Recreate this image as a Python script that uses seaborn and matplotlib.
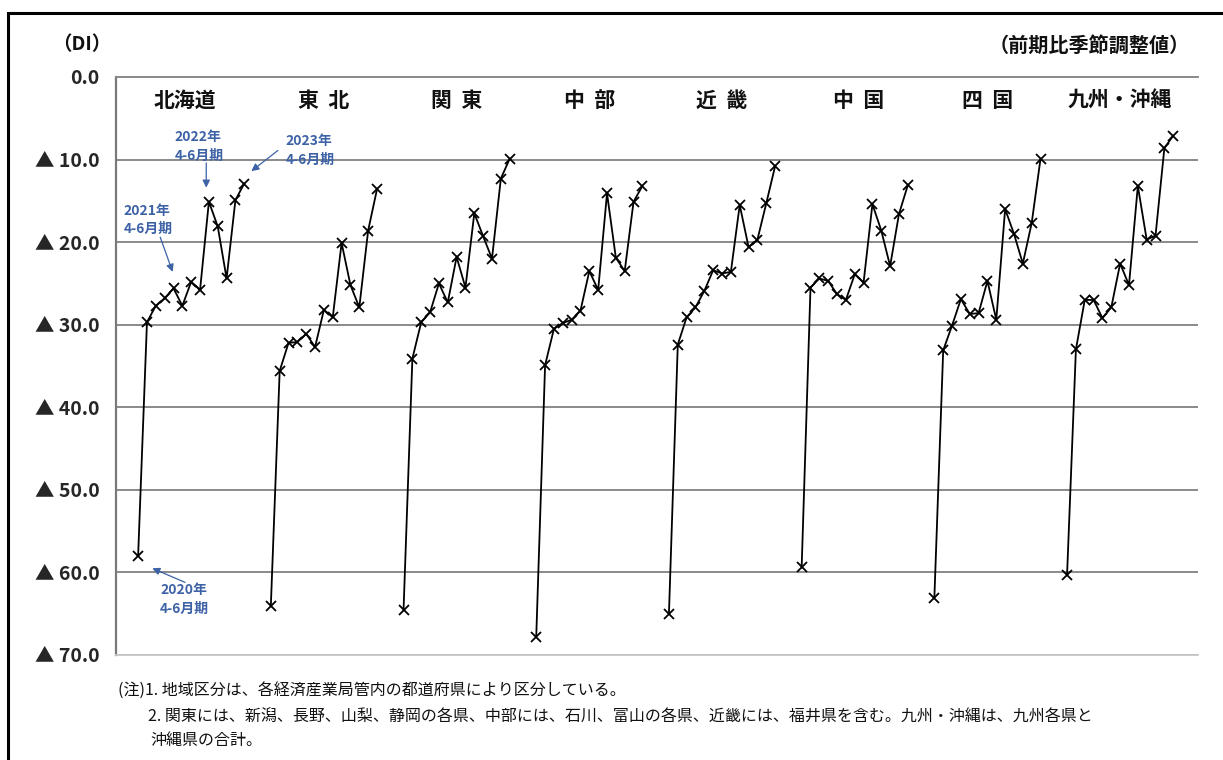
import matplotlib
matplotlib.use("Agg")
import matplotlib.pyplot as plt
import numpy as np
import pandas as pd
import seaborn as sns
from matplotlib.patches import Rectangle

# Quarterly DI (seasonally adjusted, vs. previous period), 2020 Apr-Jun .. 2023 Apr-Jun
quarters = ["2020Q2", "2020Q3", "2020Q4", "2021Q1", "2021Q2", "2021Q3", "2021Q4",
            "2022Q1", "2022Q2", "2022Q3", "2022Q4", "2023Q1", "2023Q2"]
regions = ["北海道", "東  北", "関  東", "中  部", "近  畿", "中  国", "四  国", "九州・沖縄"]

hokkaido = [58.0, 29.7, 27.7, 26.8, 25.6, 27.7, 24.8, 25.8, 15.1, 18.1, 24.4, 14.9, 12.9]
tohoku = [64.1, 35.6, 32.2, 32.1, 31.1, 32.7, 28.2, 29.1, 20.1, 25.2, 27.9, 18.6, 13.6]
kanto = [64.6, 34.1, 29.7, 28.5, 25.0, 27.3, 21.8, 25.5, 16.5, 19.3, 22.0, 12.3, 9.9]
chubu = [67.8, 34.9, 30.5, 29.8, 29.4, 28.3, 23.5, 25.8, 14.1, 21.9, 23.5, 15.1, 13.2]
kinki = [65.0, 32.4, 29.1, 27.9, 25.9, 23.4, 23.8, 23.6, 15.5, 20.6, 19.7, 15.3, 10.8]
chugoku = [59.4, 25.5, 24.4, 24.7, 26.3, 27.0, 23.9, 24.9, 15.4, 18.6, 22.9, 16.6, 13.1]
shikoku = [63.1, 33.1, 30.1, 26.9, 28.7, 28.6, 24.7, 29.4, 16.0, 19.0, 22.6, 17.7, 9.9]
kyushu = [60.3, 33.0, 27.0, 27.0, 29.2, 27.9, 22.6, 25.2, 13.2, 19.7, 19.2, 8.6, 7.1]

series = [hokkaido, tohoku, kanto, chubu, kinki, chugoku, shikoku, kyushu]
ytick_values = [0, 10, 20, 30, 40, 50, 60, 70]
ytick_labels = ["0.0", "▲ 10.0", "▲ 20.0", "▲ 30.0", "▲ 40.0", "▲ 50.0", "▲ 60.0", "▲ 70.0"]

SLOT = 15  # positions reserved per region (13 quarters + gap)

rows = []
for r, (name, vals) in enumerate(zip(regions, series)):
    for i, (q, v) in enumerate(zip(quarters, vals)):
        rows.append({"region": name, "quarter": q, "pos": r * SLOT + i, "di": v})
df = pd.DataFrame(rows)

sns.set_theme(style="white")
plt.rcParams["font.family"] = ["Noto Sans CJK JP", "DejaVu Sans"]

W, H = 1223, 760
fig = plt.figure(figsize=(W / 100, H / 100), dpi=100)
fig.patch.set_facecolor("white")


def fx(px):
    return px / W


def fy(py):
    return 1 - py / H


ax = fig.add_axes([fx(116), fy(655), fx(1198) - fx(116), fy(77) - fy(655)])

sns.lineplot(data=df, x="pos", y="di", units="region", estimator=None,
             color="black", marker="x", markersize=7, markeredgewidth=1.3,
             markeredgecolor="black", linewidth=1.3, legend=False, ax=ax)

ax.set_ylim(70, 0)
ax.set_xlim(-2.5, 119.8)
ax.set_xticks([])
ax.set_yticks(ytick_values)
ax.set_yticklabels(ytick_labels, fontsize=14, fontweight="bold")
ax.tick_params(axis="y", length=0, pad=12)
ax.set_xlabel("")
ax.set_ylabel("")
ax.yaxis.grid(True, color="#8a8a8a", linewidth=1.4)
ax.xaxis.grid(False)
ax.set_axisbelow(True)
ax.spines["right"].set_visible(False)
ax.spines["top"].set_color("#8a8a8a")
ax.spines["top"].set_linewidth(1.4)
ax.spines["left"].set_color("#7a7a7a")
ax.spines["left"].set_linewidth(1.6)
ax.spines["bottom"].set_color("#c8c8c8")
ax.spines["bottom"].set_linewidth(1.3)

label_shift = [-0.7, 0, 0, 0, 0, 0.4, 0, 0]
for r, name in enumerate(regions):
    ax.text(r * SLOT + 6 + label_shift[r], 2.8, name, ha="center", va="center",
            fontsize=15, fontweight="bold", color="#111111")

# quarter call-outs on the Hokkaido series
blue = "#3d62a6"
arrow = dict(arrowstyle="-|>", color=blue, lw=0.9, mutation_scale=11, shrinkA=0, shrinkB=0)
callouts = [
    ("2022年\n4-6月期", (7.7, 13.4), (7.7, 10.4), (4.1, 8.4)),
    ("2023年\n4-6月期", (12.8, 11.4), (15.8, 8.9), (16.7, 8.9)),
    ("2021年\n4-6月期", (3.9, 23.6), (2.5, 19.4), (-1.6, 17.3)),
    ("2020年\n4-6月期", (1.6, 59.5), (5.3, 61.2), (2.5, 63.3)),
]
for label, tip, tail, (tx, ty) in callouts:
    ax.annotate("", xy=tip, xytext=tail, arrowprops=arrow)
    ax.text(tx, ty, label, ha="left", va="center", fontsize=10,
            fontweight="bold", color=blue, linespacing=1.4)

fig.text(fx(82), fy(45), "（DI）", ha="center", va="center",
         fontsize=14, fontweight="bold", color="#111111")
fig.text(fx(1190), fy(45), "（前期比季節調整値）", ha="right", va="center",
         fontsize=14.5, fontweight="bold", color="#111111")

notes = [
    (118, 691, "(注)1. 地域区分は、各経済産業局管内の都道府県により区分している。"),
    (148, 717, "2. 関東には、新潟、長野、山梨、静岡の各県、中部には、石川、富山の各県、近畿には、福井県を含む。九州・沖縄は、九州各県と"),
    (150, 741, "沖縄県の合計。"),
]
for x, y, t in notes:
    fig.text(fx(x), fy(y), t, ha="left", va="center", fontsize=11.5, color="#111111")

# outer frame
fig.patches.append(Rectangle((fx(8), -0.1), 1.2, fy(13) + 0.1, transform=fig.transFigure,
                             fill=False, edgecolor="black", linewidth=2.2))

fig.savefig("out.png", dpi=100, facecolor="white")
